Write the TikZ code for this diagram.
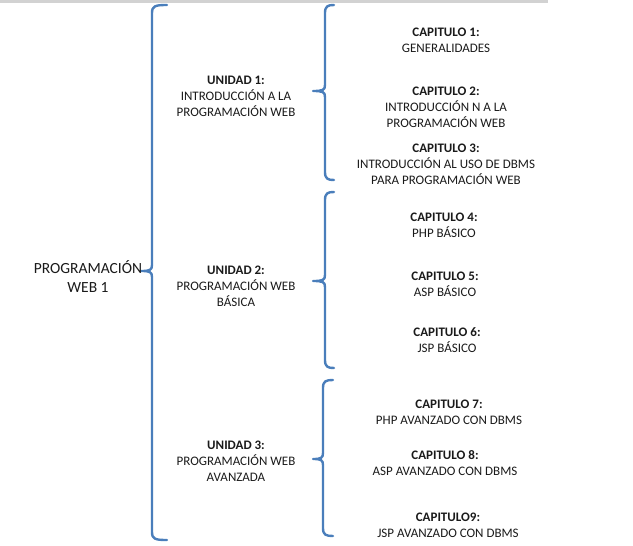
\documentclass[tikz,border=0pt]{standalone}
\usepackage{fontspec}
\setmainfont{Carlito}
\definecolor{braceblue}{HTML}{4A7EBB}
\definecolor{txt}{HTML}{1A1A1A}
\newcommand\mybrace[6]{%
  \draw[bracestyle] (#6,#2) .. controls ({#1+3},#2) and (#1,{#2+1}) .. (#1,{#2+8})
    -- (#1,{#3-6}) .. controls (#1,{#3-1}) and ({#1-2},#3) .. (#5,#3)
    (#5,#3) .. controls ({#1-2},#3) and (#1,{#3+1}) .. (#1,{#3+6})
    -- (#1,{#4-8}) .. controls (#1,{#4-1}) and ({#1+3},#4) .. (#6,#4);}
\tikzset{
  bracestyle/.style={draw=braceblue, line width=2.4pt, line cap=round, line join=round},
  small/.style={anchor=base, align=center, inner sep=0pt, text=txt,
    font=\fontsize{13}{16}\selectfont},
  big/.style={anchor=base, align=center, inner sep=0pt, text=txt,
    font=\fontsize{15.5}{19}\selectfont}
}
\begin{document}
\begin{tikzpicture}[x=1pt,y=-1pt]
\useasboundingbox (0,0) rectangle (633,546);
\fill[gray!35] (0,0) rectangle (548,3);
% braces
\mybrace{152}{5}{271}{540}{141}{167}
\mybrace{325}{5}{91}{180}{313}{334}
\mybrace{325}{192}{281}{368}{313}{334}
\mybrace{323}{380}{459}{536}{313}{333}
% root (anchor = baseline of last line)
\node[big] (root) at (88,292) {PROGRAMACIÓN\\WEB 1};
% units
\node[small] (u1) at (236,116.2) {\textbf{UNIDAD 1:}\\INTRODUCCIÓN A LA\\PROGRAMACIÓN WEB};
\node[small] (u2) at (236,306) {\textbf{UNIDAD 2:}\\PROGRAMACIÓN WEB\\BÁSICA};
\node[small] (u3) at (236,481) {\textbf{UNIDAD 3:}\\PROGRAMACIÓN WEB\\AVANZADA};
% chapters
\node[small] (c1) at (446,52.2) {\textbf{CAPITULO 1:}\\GENERALIDADES};
\node[small] (c2) at (446,127.2) {\textbf{CAPITULO 2:}\\INTRODUCCIÓN N A LA\\PROGRAMACIÓN WEB};
\node[small] (c3) at (446,184.2) {\textbf{CAPITULO 3:}\\INTRODUCCIÓN AL USO DE DBMS\\PARA PROGRAMACIÓN WEB};
\node[small] (c4) at (444,237) {\textbf{CAPITULO 4:}\\PHP BÁSICO};
\node[small] (c5) at (445,296) {\textbf{CAPITULO 5:}\\ASP BÁSICO};
\node[small] (c6) at (447,352) {\textbf{CAPITULO 6:}\\JSP BÁSICO};
\node[small] (c7) at (449,424) {\textbf{CAPITULO 7:}\\PHP AVANZADO CON DBMS};
\node[small] (c8) at (445,475) {\textbf{CAPITULO 8:}\\ASP AVANZADO CON DBMS};
\node[small] (c9) at (448,537) {\textbf{CAPITULO9:}\\JSP AVANZADO CON DBMS};
\end{tikzpicture}
\end{document}
